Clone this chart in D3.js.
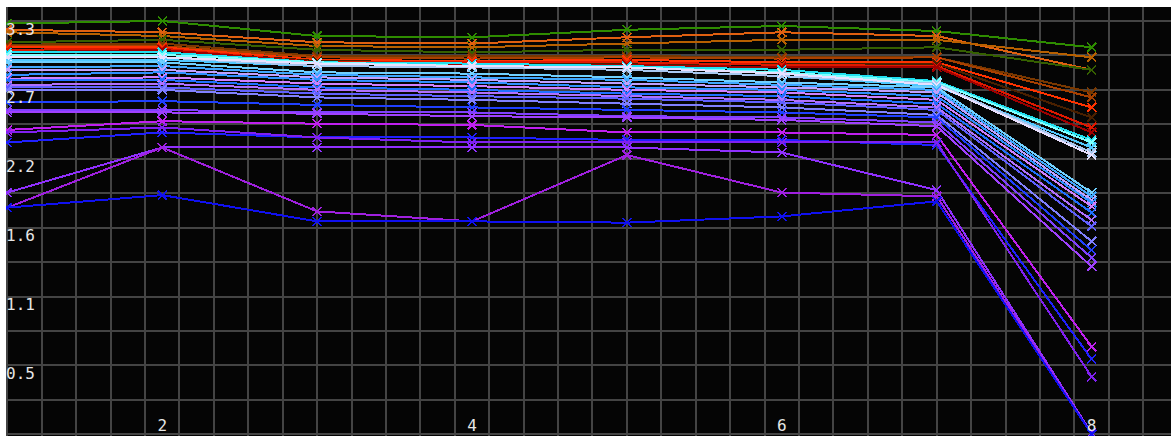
<!DOCTYPE html>
<html><head><meta charset="utf-8">
<script src="https://cdn.jsdelivr.net/npm/d3@7"></script>
<style>html,body{margin:0;background:#fff;overflow:hidden} svg{display:block}</style>
</head><body><svg id="c" width="1171" height="437"></svg>
<script>
// ---- data ----
const categories = [1, 2, 3, 4, 5, 6, 7, 8];
const xTickValues = [2, 4, 6, 8];
const xTickLabels = ["2", "4", "6", "8"];
const yTickValues = [3.3, 2.75, 2.2, 1.65, 1.1, 0.55];
const yTickLabels = ["3.3", "2.7", "2.2", "1.6", "1.1", "0.5"];

const seriesValues = [
  [3.28, 3.30, 3.18, 3.17, 3.23, 3.26, 3.22, 3.09],
  [3.23, 3.21, 3.13, 3.12, 3.17, 3.21, 3.18, 2.91],
  [3.21, 3.18, 3.10, 3.09, 3.12, 3.15, 3.15, 3.01],
  [3.13, 3.15, 3.07, 3.05, 3.07, 3.07, 3.09, 2.91],
  [3.11, 3.12, 3.02, 3.02, 3.02, 3.01, 3.01, 2.73],
  [3.10, 3.10, 3.01, 3.00, 3.01, 3.00, 3.01, 2.69],
  [3.09, 3.09, 2.99, 2.98, 2.99, 2.97, 2.97, 2.61],
  [3.06, 3.07, 2.98, 2.97, 2.96, 2.96, 2.96, 2.53],
  [3.07, 3.08, 2.97, 2.97, 2.97, 2.95, 2.94, 2.45],
  [3.05, 3.07, 2.97, 2.95, 2.95, 2.93, 2.93, 2.41],
  [3.05, 3.05, 2.97, 2.96, 2.94, 2.91, 2.82, 2.35],
  [3.03, 3.03, 2.97, 2.94, 2.93, 2.89, 2.81, 2.33],
  [2.99, 2.99, 2.94, 2.93, 2.91, 2.86, 2.78, 2.29],
  [3.01, 3.01, 2.94, 2.93, 2.91, 2.86, 2.80, 2.25],
  [3.01, 3.01, 2.96, 2.94, 2.93, 2.88, 2.79, 2.23],
  [2.97, 2.97, 2.89, 2.88, 2.85, 2.81, 2.77, 1.93],
  [2.93, 2.94, 2.87, 2.85, 2.83, 2.79, 2.75, 1.90],
  [2.91, 2.91, 2.85, 2.83, 2.80, 2.77, 2.73, 1.87],
  [2.87, 2.89, 2.83, 2.81, 2.77, 2.75, 2.70, 1.85],
  [2.84, 2.85, 2.80, 2.78, 2.75, 2.73, 2.67, 1.82],
  [2.83, 2.83, 2.77, 2.75, 2.72, 2.70, 2.64, 1.77],
  [2.79, 2.80, 2.75, 2.73, 2.70, 2.67, 2.61, 1.71],
  [2.77, 2.77, 2.72, 2.70, 2.68, 2.65, 2.59, 1.66],
  [2.75, 2.75, 2.69, 2.67, 2.64, 2.61, 2.55, 1.54],
  [2.65, 2.66, 2.63, 2.61, 2.59, 2.57, 2.53, 1.47],
  [2.59, 2.59, 2.57, 2.57, 2.54, 2.53, 2.49, 1.41],
  [2.57, 2.57, 2.56, 2.54, 2.53, 2.51, 2.46, 1.34],
  [2.43, 2.50, 2.48, 2.47, 2.41, 2.41, 2.39, 0.70],
  [2.33, 2.41, 2.37, 2.37, 2.35, 2.35, 2.31, 0.60],
  [2.41, 2.45, 2.37, 2.33, 2.33, 2.33, 2.33, 0.46],
  [1.93, 2.29, 2.29, 2.29, 2.29, 2.25, 1.95, 0.01],
  [1.81, 2.29, 1.78, 1.70, 2.23, 1.93, 1.90, 0.00],
  [1.81, 1.91, 1.70, 1.70, 1.69, 1.74, 1.86, 0.00]
];

const seriesColors = [
  "#2e8c00", "#e06010", "#b86000", "#356000", "#7a3800",
  "#a84000", "#ff3300", "#4a2000", "#e01800", "#a00000",
  "#20e0f0", "#80ffff", "#50c8ff", "#a8c8f0", "#e8e0ff",
  "#70d0ff", "#40a8ff", "#c0a0ff", "#3090ff", "#d080ff",
  "#2070ff", "#b070ff", "#6060ff", "#8080ff", "#2040ff",
  "#8040ff", "#a040ff",
  "#c020f0", "#2020ff", "#8020f0",
  "#9030ff", "#a020e0", "#1010f0"
];

// ---- layout ----
const svg = d3.select("#c");
const plotL = 6, plotT = 7, plotR = 1171, plotB = 436;
const x = d3.scaleLinear().domain([1, 8]).range([7.3, 1091.6]);
const y = d3.scaleLinear().domain([0, 3.3]).range([434.3, 21]);

svg.append("rect").attr("width", 1171).attr("height", 437).attr("fill", "#fff");
svg.append("defs").append("clipPath").attr("id", "clip")
  .append("rect").attr("x", plotL).attr("y", plotT)
  .attr("width", plotR - plotL).attr("height", plotB - plotT);

const g = svg.append("g").attr("clip-path", "url(#clip)");
g.append("rect").attr("x", plotL).attr("y", plotT)
  .attr("width", plotR - plotL).attr("height", plotB - plotT).attr("fill", "#050505");

// grid: square cells (2/9 unit in x, 0.275 unit in y)
const xGrid = d3.range(0, 40).map(k => 1 + k * 2 / 9).filter(v => x(v) <= plotR);
const yGrid = d3.range(0, 14).map(k => k * 0.275);
g.append("g").selectAll("line").data(xGrid).join("line")
  .attr("x1", d => x(d)).attr("x2", d => x(d))
  .attr("y1", plotT).attr("y2", plotB)
  .attr("stroke", "#444").attr("stroke-width", 2).attr("shape-rendering", "crispEdges");
g.append("g").selectAll("line").data(yGrid).join("line")
  .attr("y1", d => y(d)).attr("y2", d => y(d))
  .attr("x1", plotL).attr("x2", plotR)
  .attr("stroke", "#444").attr("stroke-width", 2).attr("shape-rendering", "crispEdges");

// series
const line = d3.line().x((d, i) => x(categories[i])).y(d => y(d));
const sg = g.append("g").attr("shape-rendering", "crispEdges");
seriesValues.forEach((vals, si) => {
  const col = seriesColors[si];
  sg.append("path").attr("d", line(vals)).attr("fill", "none")
    .attr("stroke", col).attr("stroke-width", 2);
  const m = sg.append("g");
  vals.forEach((v, i) => {
    const cx = x(categories[i]), cy = y(v), r = 4.5;
    m.append("path")
      .attr("d", `M${cx - r},${cy - r}L${cx + r},${cy + r}M${cx - r},${cy + r}L${cx + r},${cy - r}`)
      .attr("stroke", col).attr("stroke-width", 1.6).attr("fill", "none");
  });
});

// axes labels
const tg = g.append("g").attr("font-family", "DejaVu Sans Mono, monospace")
  .attr("font-size", 16).attr("fill", "#e6e6e6");
tg.selectAll("text.y").data(yTickValues).join("text").attr("class", "y")
  .attr("x", 6).attr("y", d => y(d) + 13.5).text((d, i) => yTickLabels[i]);
tg.selectAll("text.x").data(xTickValues).join("text").attr("class", "x")
  .attr("x", d => x(d)).attr("y", 430.5).attr("text-anchor", "middle")
  .text((d, i) => xTickLabels[i]);
</script>
</body></html>
